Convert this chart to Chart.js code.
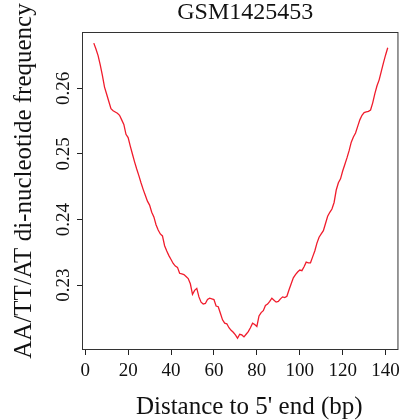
<!DOCTYPE html>
<html>
<head>
<meta charset="utf-8">
<script src="https://cdn.jsdelivr.net/npm/chart.js@4/dist/chart.umd.min.js"></script>
<style>
html,body{margin:0;padding:0;background:#fff;}
#wrap{width:405px;height:420px;position:relative;}
</style>
</head>
<body>
<div id="wrap"><canvas id="c" width="405" height="420"></canvas></div>
<script>
const chartTitle = "GSM1425453";
const xTitle = "Distance to 5' end (bp)";
const yTitle = "AA/TT/AT di-nucleotide frequency";

const positions = [4,5,6,7,8,9,10,11,12,13,14,15,16,17,18,19,20,21,22,23,24,25,26,27,28,29,30,31,32,33,34,35,36,37,38,39,40,41,42,43,44,45,46,47,48,49,50,51,52,53,54,55,56,57,58,59,60,61,62,63,64,65,66,67,68,69,70,71,72,73,74,75,76,77,78,79,80,81,82,83,84,85,86,87,88,89,90,91,92,93,94,95,96,97,98,99,100,101,102,103,104,105,106,107,108,109,110,111,112,113,114,115,116,117,118,119,120,121,122,123,124,125,126,127,128,129,130,131,132,133,134,135,136,137,138,139,140,141];

const frequency = [
0.2669,0.2660,0.2650,0.2636,0.2620,0.2602,0.2591,0.2580,0.2569,0.2566,
0.2564,0.2562,0.2559,0.2552,0.2545,0.2530,0.2525,0.2512,0.2500,0.2488,
0.2477,0.2467,0.2456,0.2446,0.2437,0.2428,0.2422,0.2411,0.2404,0.2392,
0.2384,0.2378,0.2375,0.2360,0.2352,0.2345,0.2339,0.2333,0.2329,0.2327,
0.2318,0.2317,0.2316,0.2313,0.2310,0.2302,0.2286,0.2292,0.2295,0.2282,
0.2274,0.2271,0.2272,0.2278,0.2280,0.2279,0.2278,0.2268,0.2267,0.2257,
0.2247,0.2242,0.2241,0.2235,0.2231,0.2228,0.2224,0.2219,0.2225,0.2224,
0.2221,0.2225,0.2229,0.2235,0.2242,0.2240,0.2237,0.2253,0.2258,0.2261,
0.2269,0.2271,0.2275,0.2280,0.2277,0.2274,0.2275,0.2279,0.2282,0.2281,
0.2283,0.2293,0.2302,0.2311,0.2316,0.2320,0.2323,0.2322,0.2328,0.2335,
0.2334,0.2334,0.2343,0.2352,0.2364,0.2373,0.2378,0.2383,0.2394,0.2405,
0.2411,0.2416,0.2426,0.2445,0.2456,0.2462,0.2474,0.2484,0.2494,0.2505,
0.2518,0.2526,0.2532,0.2542,0.2552,0.2559,0.2563,0.2564,0.2565,0.2567,
0.2578,0.2592,0.2604,0.2613,0.2626,0.2639,0.2651,0.2662];

const xTicks = [0,20,40,60,80,100,120,140];
const yTicks = [0.23,0.24,0.25,0.26];

const SERIF = "'Liberation Serif','DejaVu Serif',serif";

const boxPlugin = {
  id: 'boxAndTitles',
  afterDraw(chart) {
    const ctx = chart.ctx;
    const a = chart.chartArea;
    ctx.save();
    ctx.strokeStyle = '#333';
    ctx.lineWidth = 1;
    ctx.strokeRect(a.left + 0.5, a.top + 0.5, a.right - a.left - 1, a.bottom - a.top - 1);
    ctx.fillStyle = '#111';
    // main title
    ctx.font = "24px " + SERIF;
    ctx.textAlign = 'center';
    ctx.textBaseline = 'alphabetic';
    ctx.fillText(chartTitle, (a.left + a.right) / 2 + 5, 18.5);
    // x title
    ctx.font = "25px " + SERIF;
    ctx.fillText(xTitle, (a.left + a.right) / 2 + 9, 414);
    // y title
    ctx.translate(31, (a.top + a.bottom) / 2 - 10);
    ctx.rotate(-Math.PI / 2);
    ctx.fillText(yTitle, 0, 0);
    ctx.restore();
  }
};

new Chart(document.getElementById('c'), {
  type: 'line',
  data: {
    datasets: [{
      data: positions.map((p, i) => ({x: p, y: frequency[i]})),
      borderColor: '#f01c2c',
      borderWidth: 1.3,
      pointRadius: 0,
      tension: 0,
      fill: false
    }]
  },
  options: {
    responsive: false,
    animation: false,
    devicePixelRatio: 1,
    layout: {padding: {left: 0, right: 4, top: 32, bottom: 0}},
    plugins: {legend: {display: false}, tooltip: {enabled: false}, title: {display: false}},
    scales: {
      x: {
        type: 'linear',
        min: -1.5,
        max: 146,
        afterBuildTicks(s) { s.ticks = xTicks.map(v => ({value: v})); },
        afterFit(s) { s.height = 70; },
        border: {display: false},
        grid: {display: true, drawOnChartArea: false, drawTicks: true, tickLength: 5, color: '#222', lineWidth: 1},
        ticks: {
          color: '#111',
          font: {family: SERIF, size: 19},
          padding: 5,
          maxRotation: 0,
          autoSkip: false,
          callback: v => String(v)
        }
      },
      y: {
        type: 'linear',
        min: 0.2201,
        max: 0.2686,
        afterBuildTicks(s) { s.ticks = yTicks.map(v => ({value: v})); },
        afterFit(s) { s.width = 82; },
        border: {display: false},
        grid: {display: true, drawOnChartArea: false, drawTicks: true, tickLength: 5, color: '#222', lineWidth: 1},
        ticks: {
          color: '#111',
          font: {family: SERIF, size: 19},
          padding: -3.5,
          minRotation: 90,
          maxRotation: 90,
          crossAlign: 'center',
          autoSkip: false,
          callback: v => v.toFixed(2)
        }
      }
    }
  },
  plugins: [boxPlugin]
});
</script>
</body>
</html>
